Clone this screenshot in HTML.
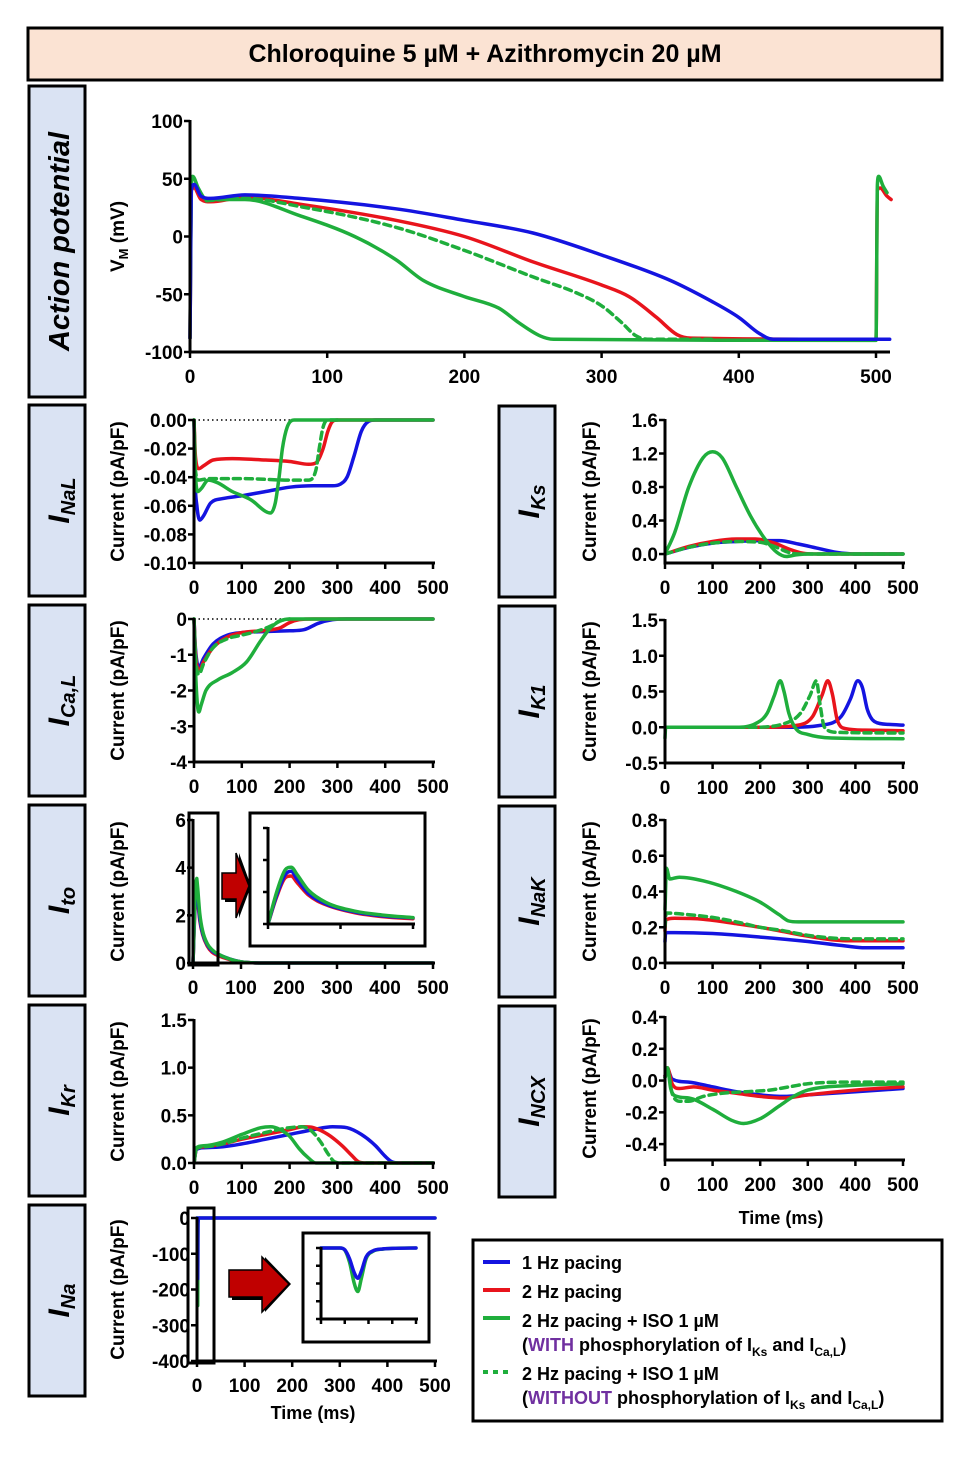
<!DOCTYPE html>
<html><head><meta charset="utf-8">
<style>
html,body{margin:0;padding:0;background:#fff;}
svg{display:block;font-family:"Liberation Sans",Arial,sans-serif;}
</style></head>
<body>
<svg id="fig" width="974" height="1463" viewBox="0 0 974 1463" xmlns="http://www.w3.org/2000/svg">
<rect x="0" y="0" width="974" height="1463" fill="#fff"/>
<g>
<rect x="28" y="28" width="914" height="52" fill="#fbe3d3" stroke="#000" stroke-width="3"/>
<text x="485" y="62" text-anchor="middle" font-size="25" font-weight="bold">Chloroquine 5 µM + Azithromycin 20 µM</text>
</g>
<g id="labels"></g>
<g id="plots"></g>
<g>
<rect x="473" y="1240" width="469" height="181" fill="#fff" stroke="#000" stroke-width="3"/>
<line x1="483" y1="1262" x2="510" y2="1262" stroke="#1414e0" stroke-width="4"/>
<text x="522" y="1269" font-size="18" font-weight="bold">1 Hz pacing</text>
<line x1="483" y1="1290" x2="510" y2="1290" stroke="#e8141c" stroke-width="4"/>
<text x="522" y="1298" font-size="18" font-weight="bold">2 Hz pacing</text>
<line x1="483" y1="1318" x2="510" y2="1318" stroke="#1fae3c" stroke-width="4"/>
<text x="522" y="1327" font-size="18" font-weight="bold">2 Hz pacing + ISO 1 µM</text>
<text x="522" y="1351" font-size="18" font-weight="bold">(<tspan fill="#7030a0">WITH</tspan> phosphorylation of I<tspan font-size="12" dy="5">Ks</tspan><tspan dy="-5"> and I</tspan><tspan font-size="12" dy="5">Ca,L</tspan><tspan dy="-5">)</tspan></text>
<line x1="483" y1="1372" x2="510" y2="1372" stroke="#1fae3c" stroke-width="4" stroke-dasharray="5,5"/>
<text x="522" y="1380" font-size="18" font-weight="bold">2 Hz pacing + ISO 1 µM</text>
<text x="522" y="1404" font-size="18" font-weight="bold">(<tspan fill="#7030a0">WITHOUT</tspan> phosphorylation of I<tspan font-size="12" dy="5">Ks</tspan><tspan dy="-5"> and I</tspan><tspan font-size="12" dy="5">Ca,L</tspan><tspan dy="-5">)</tspan></text>
</g>
<text x="781" y="1224" text-anchor="middle" font-size="18" font-weight="bold">Time (ms)</text>
<text x="313" y="1419" text-anchor="middle" font-size="18" font-weight="bold">Time (ms)</text>
</svg>
<script>
// ---------- data (time ms, value) ----------
const apBlue=[[0,-88],[1,40],[3,45],[8,35],[15,33],[40,36],[80,33],[150,24],[200,14],[250,3],[300,-16],[350,-38],[380,-56],[400,-70],[415,-84],[425,-89],[510,-89]];
const apRed=[[0,-88],[1,40],[3,42],[8,32],[15,30],[40,34],[80,28],[150,14],[200,0],[250,-22],[300,-42],[320,-52],[340,-70],[355,-85],[365,-88],[500,-89],[501,40],[503,42],[508,35],[511,32]];
const apGreen=[[0,-88],[1,45],[2,52],[6,42],[12,32],[40,32],[80,18],[120,0],[150,-20],[170,-38],[200,-52],[225,-62],[240,-75],[255,-86],[265,-89],[500,-90],[501,45],[502,52],[505,44],[508,38]];
const apGreenDash=[[12,31],[40,33],[80,26],[150,8],[200,-12],[250,-35],[280,-48],[300,-60],[315,-75],[325,-86],[335,-89],[380,-89]];

const nalBlue=[[0,0],[2,-0.04],[6,-0.06],[12,-0.07],[20,-0.067],[35,-0.058],[60,-0.055],[100,-0.053],[150,-0.05],[200,-0.047],[250,-0.046],[290,-0.046],[305,-0.045],[320,-0.04],[335,-0.025],[350,-0.008],[365,-0.001],[380,0],[500,0]];
const nalRed=[[0,0],[3,-0.025],[10,-0.034],[20,-0.032],[40,-0.028],[80,-0.027],[150,-0.028],[200,-0.029],[240,-0.031],[255,-0.03],[270,-0.02],[280,-0.008],[290,-0.001],[300,0],[500,0]];
const nalGreen=[[0,0],[2,-0.03],[8,-0.05],[15,-0.048],[30,-0.042],[50,-0.044],[80,-0.05],[120,-0.056],[150,-0.064],[160,-0.065],[170,-0.058],[178,-0.04],[185,-0.02],[195,-0.005],[210,0],[500,0]];
const nalGreenDash=[[0,0],[3,-0.035],[10,-0.042],[30,-0.041],[100,-0.041],[200,-0.042],[240,-0.042],[255,-0.035],[262,-0.02],[270,-0.005],[280,0],[300,0]];

const ksBlue=[[0,0],[50,0.08],[100,0.13],[150,0.15],[200,0.16],[240,0.16],[280,0.12],[320,0.07],[360,0.02],[400,0],[500,0]];
const ksRed=[[0,0],[50,0.09],[100,0.15],[150,0.18],[190,0.18],[230,0.13],[260,0.06],[290,0.01],[320,0],[500,0]];
const ksGreen=[[0,0],[20,0.25],[50,0.8],[80,1.15],[100,1.22],[120,1.15],[150,0.8],[180,0.45],[210,0.18],[235,0.02],[255,-0.03],[275,-0.01],[300,0],[500,0]];
const ksGreenDash=[[0,0],[50,0.08],[100,0.13],[150,0.15],[200,0.14],[230,0.09],[260,0.02],[280,0],[500,0]];

const calBlue=[[0,0],[3,-0.8],[10,-1.35],[20,-1.1],[40,-0.7],[70,-0.45],[100,-0.38],[150,-0.35],[200,-0.33],[230,-0.3],[260,-0.12],[290,-0.02],[320,0],[500,0]];
const calRed=[[0,0],[3,-0.9],[10,-1.45],[20,-1.2],[40,-0.8],[70,-0.5],[100,-0.38],[150,-0.32],[180,-0.25],[200,-0.1],[220,-0.02],[250,0],[500,0]];
const calGreen=[[0,0],[2,-1.0],[6,-2.2],[10,-2.6],[15,-2.4],[25,-2.0],[50,-1.7],[80,-1.5],[110,-1.2],[140,-0.6],[160,-0.25],[180,-0.06],[200,0],[500,0]];
const calGreenDash=[[0,0],[3,-1.0],[10,-1.55],[20,-1.25],[40,-0.8],[70,-0.55],[100,-0.45],[130,-0.35],[160,-0.2],[180,-0.05],[200,0]];

const k1Blue=[[0,0],[250,0],[330,0.03],[370,0.15],[390,0.4],[405,0.65],[415,0.55],[425,0.25],[440,0.08],[470,0.04],[500,0.03]];
const k1Red=[[0,0],[200,0],[280,0.03],[310,0.15],[330,0.45],[342,0.65],[352,0.45],[362,0.1],[380,-0.02],[420,-0.04],[500,-0.05]];
const k1Green=[[0,-0.15],[1,0],[150,0],[190,0.05],[215,0.2],[230,0.45],[242,0.65],[250,0.5],[260,0.2],[275,-0.02],[300,-0.1],[350,-0.15],[500,-0.16]];
const k1GreenDash=[[0,0],[180,0],[250,0.05],[285,0.2],[305,0.45],[318,0.65],[325,0.35],[335,0.0],[360,-0.07],[500,-0.08]];

const toBlue=[[0,0],[3,1.8],[6,3.1],[8,3.3],[10,2.8],[14,1.9],[20,1.25],[30,0.75],[40,0.5],[50,0.38],[100,0.05],[150,0],[500,0]];
const toRed=[[0,0],[3,1.7],[6,2.9],[8,3.0],[10,2.6],[14,1.8],[20,1.2],[30,0.7],[40,0.45],[50,0.33],[100,0.05],[150,0],[500,0]];
const toGreen=[[0,0],[3,2.0],[6,3.4],[8,3.55],[10,3.1],[14,2.1],[20,1.35],[30,0.8],[40,0.55],[50,0.4],[100,0.05],[150,0],[500,0]];

const nakBlue=[[0,0.12],[1,0.17],[20,0.17],[100,0.165],[200,0.145],[300,0.12],[380,0.095],[420,0.085],[500,0.085]];
const nakRed=[[0,0.18],[1,0.24],[20,0.25],[80,0.245],[150,0.22],[200,0.2],[250,0.175],[300,0.15],[350,0.13],[380,0.125],[500,0.125]];
const nakGreen=[[0,0.3],[3,0.53],[10,0.47],[30,0.48],[80,0.46],[150,0.4],[200,0.34],[240,0.27],[260,0.235],[280,0.23],[500,0.23]];
const nakGreenDash=[[0,0.2],[2,0.28],[30,0.275],[100,0.255],[150,0.23],[200,0.2],[250,0.18],[300,0.155],[350,0.14],[400,0.135],[500,0.135]];

const krBlue=[[0,0],[5,0.14],[20,0.16],[60,0.17],[100,0.2],[150,0.25],[200,0.3],[250,0.35],[290,0.38],[320,0.37],[350,0.3],[380,0.18],[400,0.07],[415,0.01],[430,0],[500,0]];
const krRed=[[0,0],[5,0.15],[20,0.17],[60,0.2],[100,0.25],[150,0.3],[200,0.35],[230,0.38],[250,0.37],[280,0.3],[310,0.18],[330,0.08],[345,0.01],[360,0],[500,0]];
const krGreen=[[0,0],[5,0.16],[20,0.18],[60,0.22],[100,0.3],[140,0.37],[160,0.38],[180,0.35],[200,0.28],[220,0.15],[240,0.05],[255,0],[500,0]];
const krGreenDash=[[0,0],[5,0.15],[20,0.17],[60,0.2],[100,0.26],[150,0.32],[200,0.37],[225,0.38],[245,0.34],[265,0.22],[280,0.1],[295,0.01],[310,0],[500,0]];

const ncxBlue=[[0,0.03],[5,0.07],[15,0.01],[50,-0.01],[100,-0.04],[150,-0.07],[200,-0.09],[250,-0.1],[300,-0.09],[400,-0.07],[500,-0.05]];
const ncxRed=[[0,0.03],[5,0.08],[15,-0.02],[30,-0.05],[60,-0.04],[100,-0.06],[150,-0.08],[200,-0.1],[250,-0.11],[300,-0.09],[400,-0.06],[500,-0.04]];
const ncxGreen=[[0,0.02],[5,0.08],[12,-0.05],[25,-0.1],[50,-0.11],[100,-0.18],[140,-0.25],[165,-0.27],[200,-0.24],[240,-0.16],[270,-0.1],[300,-0.06],[400,-0.03],[500,-0.02]];
const ncxGreenDash=[[0,0.02],[5,0.06],[15,-0.08],[30,-0.13],[50,-0.13],[80,-0.1],[120,-0.08],[170,-0.07],[220,-0.06],[260,-0.04],[300,-0.02],[400,-0.01],[500,-0.01]];

const naBlue=[[0,0],[0.8,0],[1.0,-10],[1.2,-60],[1.4,-140],[1.55,-170],[1.7,-130],[1.9,-50],[2.2,-15],[2.6,-5],[3,-2],[4,0],[500,0]];
const naGreen=[[0,0],[0.8,0],[1.0,-12],[1.2,-80],[1.4,-200],[1.55,-245],[1.7,-170],[1.9,-60],[2.2,-18],[2.6,-6],[3,-2],[4,0],[500,0]];

const xTicks500=[0,100,200,300,400,500];
const apXTicks=[0,100,200,300,400,500];
const apYTicks=[100,50,0,-50,-100];
const nalYTicks=[0,-0.02,-0.04,-0.06,-0.08,-0.1];
const nalYLabels=["0.00","-0.02","-0.04","-0.06","-0.08","-0.10"];
const ksYTicks=[1.6,1.2,0.8,0.4,0];
const ksYLabels=["1.6","1.2","0.8","0.4","0.0"];
const calYTicks=[0,-1,-2,-3,-4];
const k1YTicks=[1.5,1,0.5,0,-0.5];
const k1YLabels=["1.5","1.0","0.5","0.0","-0.5"];
const toYTicks=[6,4,2,0];
const nakYTicks=[0.8,0.6,0.4,0.2,0];
const nakYLabels=["0.8","0.6","0.4","0.2","0.0"];
const krYTicks=[1.5,1,0.5,0];
const krYLabels=["1.5","1.0","0.5","0.0"];
const ncxYTicks=[0.4,0.2,0,-0.2,-0.4];
const ncxYLabels=["0.4","0.2","0.0","-0.2","-0.4"];
const naYTicks=[0,-100,-200,-300,-400];

const BLUE="#1414e0",RED="#e8141c",GREEN="#1fae3c";
const NS="http://www.w3.org/2000/svg";
const plots=document.getElementById('plots');
function mk(tag,attrs,parent){const e=document.createElementNS(NS,tag);for(const k in attrs)e.setAttribute(k,attrs[k]);(parent||plots).appendChild(e);return e;}

// monotone cubic path (Fritsch-Carlson) through pixel points
function smoothPath(P){
  const n=P.length; if(n<2) return '';
  const d=[],m=[];
  for(let i=0;i<n-1;i++){const dx=P[i+1][0]-P[i][0];d.push(dx===0?0:(P[i+1][1]-P[i][1])/dx);}
  m[0]=d[0];m[n-1]=d[n-2];
  for(let i=1;i<n-1;i++){m[i]=(d[i-1]*d[i]<=0)?0:(d[i-1]+d[i])/2;}
  for(let i=0;i<n-1;i++){if(d[i]===0){m[i]=0;m[i+1]=0;continue;}const a=m[i]/d[i],b=m[i+1]/d[i],s=a*a+b*b;if(s>9){const t=3/Math.sqrt(s);m[i]=t*a*d[i];m[i+1]=t*b*d[i];}}
  let s='M'+P[0][0].toFixed(1)+','+P[0][1].toFixed(1);
  for(let i=0;i<n-1;i++){const dx=P[i+1][0]-P[i][0];
    if(dx<1.2){s+=' L'+P[i+1][0].toFixed(1)+','+P[i+1][1].toFixed(1);continue;}
    const c1x=P[i][0]+dx/3,c1y=P[i][1]+m[i]*dx/3,c2x=P[i+1][0]-dx/3,c2y=P[i+1][1]-m[i+1]*dx/3;
    s+=' C'+c1x.toFixed(1)+','+c1y.toFixed(1)+' '+c2x.toFixed(1)+','+c2y.toFixed(1)+' '+P[i+1][0].toFixed(1)+','+P[i+1][1].toFixed(1);}
  return s;
}

function panel(c){
  const g=mk('g',{});
  
  
  const sx=t=>c.x0+t/c.tmax*(c.x1-c.x0);
  const sy=v=>c.yTop+(c.vmax-v)/(c.vmax-c.vmin)*(c.yBot-c.yTop);
  const sw=c.sw||3;
  if(c.zeroDotted){const l=mk('line',{x1:c.x0,y1:sy(0),x2:c.x1,y2:sy(0),stroke:'#000','stroke-width':1.5,'stroke-dasharray':'1.5,3'},g);
    
    }
  (c.series||[]).forEach(s=>{
    const P=s.data.filter(p=>p[0]<=(c.clip||1e9)).map(p=>[sx(p[0]),sy(p[1])]);
    const pl=mk('path',{d:smoothPath(P),fill:'none',stroke:s.color,'stroke-width':c.lw||3.5,'stroke-linejoin':'round','stroke-linecap':'round'},g);
    if(s.dash)pl.setAttribute('stroke-dasharray',s.dash);
    
    
  });
  const ax=c.axisX!==undefined?c.axisX:c.x0;
  const ya=mk('line',{x1:ax,y1:c.yTop-1,x2:ax,y2:c.yBot+sw/2,stroke:'#000','stroke-width':sw},g);
  
  
  const xa=mk('line',{x1:ax-sw/2,y1:c.yBot,x2:c.xEnd||c.x1+2,y2:c.yBot,stroke:'#000','stroke-width':sw},g);
  
  
  const tl=c.tick||6;
  c.yticks.forEach((v,i)=>{
    mk('line',{x1:ax-tl,y1:sy(v),x2:ax,y2:sy(v),stroke:'#000','stroke-width':sw-0.5},g);
    if(!c.noLabels){const t=mk('text',{x:ax-7,y:sy(v)+7,'text-anchor':'end','font-size':19,'font-weight':'bold'},g);
      t.textContent=c.ylabels?c.ylabels[i]:String(v);
      
      }
  });
  c.xticks.forEach(v=>{
    mk('line',{x1:sx(v),y1:c.yBot,x2:sx(v),y2:c.yBot+tl,stroke:'#000','stroke-width':sw-0.5},g);
    if(!c.noLabels){const t=mk('text',{x:sx(v),y:c.yBot+31,'text-anchor':'middle','font-size':19,'font-weight':'bold'},g);
      t.textContent=String(v);
      
      }
  });
  if(c.ytitle){const t=mk('text',{transform:`rotate(-90 ${c.ytitleX} ${(c.yTop+c.yBot)/2})`,x:c.ytitleX,y:(c.yTop+c.yBot)/2,'text-anchor':'middle','font-size':19,'font-weight':'bold'},g);
    t.innerHTML=c.ytitle;
    
    }
  return g;
}
const CUR="Current (pA/pF)";
function S(d,color,name,dash){return {data:d,color:color,name:name,dash:dash};}

panel({name:'action-potential-chart',x0:190,x1:876,xEnd:890,tmax:500,yTop:121,yBot:352,vmax:100,vmin:-100,yticks:apYTicks,xticks:apXTicks,
  ytitle:'V<tspan font-size="13" dy="4">M</tspan><tspan dy="-4"> (mV)</tspan>',ytitleX:124,
  series:[S(apRed,RED,'ap-2hz'),S(apGreenDash,GREEN,'ap-iso-without','7,5'),S(apGreen,GREEN,'ap-iso-with'),S(apBlue,BLUE,'ap-1hz')]});
panel({name:'inal-chart',x0:194,x1:433,tmax:500,yTop:420,yBot:563,vmax:0,vmin:-0.1,yticks:nalYTicks,ylabels:nalYLabels,xticks:xTicks500,zeroDotted:true,ytitle:CUR,ytitleX:124,
  series:[S(nalBlue,BLUE,'inal-1hz'),S(nalRed,RED,'inal-2hz'),S(nalGreenDash,GREEN,'inal-iso-without','7,5'),S(nalGreen,GREEN,'inal-iso-with')]});
panel({name:'iks-chart',x0:665,x1:903,tmax:500,yTop:420,yBot:563,vmax:1.6,vmin:-0.107,yticks:ksYTicks,ylabels:ksYLabels,xticks:xTicks500,ytitle:CUR,ytitleX:596,
  series:[S(ksBlue,BLUE,'iks-1hz'),S(ksRed,RED,'iks-2hz'),S(ksGreenDash,GREEN,'iks-iso-without','7,5'),S(ksGreen,GREEN,'iks-iso-with')]});
panel({name:'ical-chart',x0:194,x1:433,tmax:500,yTop:619,yBot:762,vmax:0,vmin:-4,yticks:calYTicks,xticks:xTicks500,zeroDotted:true,ytitle:CUR,ytitleX:124,
  series:[S(calBlue,BLUE,'ical-1hz'),S(calRed,RED,'ical-2hz'),S(calGreenDash,GREEN,'ical-iso-without','7,5'),S(calGreen,GREEN,'ical-iso-with')]});
panel({name:'ik1-chart',x0:665,x1:903,tmax:500,yTop:620,yBot:763,vmax:1.5,vmin:-0.5,yticks:k1YTicks,ylabels:k1YLabels,xticks:xTicks500,ytitle:CUR,ytitleX:596,
  series:[S(k1Blue,BLUE,'ik1-1hz'),S(k1Red,RED,'ik1-2hz'),S(k1GreenDash,GREEN,'ik1-iso-without','7,5'),S(k1Green,GREEN,'ik1-iso-with')]});
panel({name:'ito-chart',x0:193,x1:433,tmax:500,yTop:820,yBot:963,vmax:6,vmin:0,yticks:toYTicks,xticks:xTicks500,ytitle:CUR,ytitleX:124,
  series:[S(toRed,RED,'ito-2hz'),S(toBlue,BLUE,'ito-1hz'),S(toGreen,GREEN,'ito-iso-with')]});
panel({name:'inak-chart',x0:665,x1:903,tmax:500,yTop:820,yBot:963,vmax:0.8,vmin:0,yticks:nakYTicks,ylabels:nakYLabels,xticks:xTicks500,ytitle:CUR,ytitleX:596,
  series:[S(nakBlue,BLUE,'inak-1hz'),S(nakRed,RED,'inak-2hz'),S(nakGreenDash,GREEN,'inak-iso-without','7,5'),S(nakGreen,GREEN,'inak-iso-with')]});
panel({name:'ikr-chart',x0:194,x1:433,tmax:500,yTop:1020,yBot:1163,vmax:1.5,vmin:0,yticks:krYTicks,ylabels:krYLabels,xticks:xTicks500,ytitle:CUR,ytitleX:124,
  series:[S(krBlue,BLUE,'ikr-1hz'),S(krRed,RED,'ikr-2hz'),S(krGreenDash,GREEN,'ikr-iso-without','7,5'),S(krGreen,GREEN,'ikr-iso-with')]});
panel({name:'incx-chart',x0:665,x1:903,tmax:500,yTop:1017,yBot:1160,vmax:0.4,vmin:-0.5,yticks:ncxYTicks,ylabels:ncxYLabels,xticks:xTicks500,ytitle:CUR,ytitleX:596,
  series:[S(ncxBlue,BLUE,'incx-1hz'),S(ncxRed,RED,'incx-2hz'),S(ncxGreenDash,GREEN,'incx-iso-without','7,5'),S(ncxGreen,GREEN,'incx-iso-with')]});
panel({name:'ina-chart',x0:197,x1:435,tmax:500,yTop:1218,yBot:1361,vmax:0,vmin:-400,yticks:naYTicks,xticks:xTicks500,ytitle:CUR,ytitleX:124,
  series:[S(naGreen,GREEN,'ina-iso-with'),S(naBlue,BLUE,'ina-1hz')]});

// zoom boxes, arrows, insets
function box(x,y,w,h,name){const r=mk('rect',{x:x,y:y,width:w,height:h,fill:'none',stroke:'#000','stroke-width':3});
  
  }
box(189,813,29,152,'ito-zoom-region');
box(188,1208,26,155,'ina-zoom-region');
const ib1=mk('rect',{x:250,y:813,width:175,height:133,fill:'#fff',stroke:'#000','stroke-width':3});


const ib2=mk('rect',{x:303,y:1233,width:126,height:109,fill:'#fff',stroke:'#000','stroke-width':3});


function arrow(bx0,bx1,by0,by1,hx,hy0,hy1,tip,name){
  mk('polygon',{points:`${bx0+3},${by0+3} ${bx1+3},${by0+3} ${bx1+3},${hy0} ${hx+2},${tip} ${bx1+3},${hy1} ${bx1+3},${by1+3} ${bx0+3},${by1+3}`,fill:'#000'});
  const p=mk('polygon',{points:`${bx0},${by0} ${bx1},${by0} ${bx1},${hy0} ${hx},${tip} ${bx1},${hy1} ${bx1},${by1} ${bx0},${by1}`,fill:'#c00000',stroke:'#000','stroke-width':1.5});
  
  
}
arrow(222,236,873,899,249,853,918,886,'ito-zoom-arrow');
arrow(229,262,1270,1297,289,1257,1312,1284,'ina-zoom-arrow');
panel({name:'ito-inset-chart',x0:268,x1:413,tmax:50,clip:50,yTop:828,yBot:924,vmax:6,vmin:0,yticks:toYTicks,xticks:[0,25,50],noLabels:true,sw:3,tick:5,
  series:[S(toRed,RED,'ito-inset-2hz'),S(toBlue,BLUE,'ito-inset-1hz'),S(toGreen,GREEN,'ito-inset-iso-with')]});
panel({name:'ina-inset-chart',x0:321,x1:416,tmax:4,clip:4,yTop:1248,yBot:1319,vmax:0,vmin:-400,yticks:naYTicks,xticks:[0,1,2,3,4],noLabels:true,sw:3,tick:5,
  series:[S(naGreen,GREEN,'ina-inset-iso-with'),S(naBlue,BLUE,'ina-inset-1hz')]});

// row label boxes
const labels=document.getElementById('labels');
function lab(x,y,h,html,name,fs){
  const r=mk('rect',{x:x,y:y,width:56,height:h,fill:'#dae3f3',stroke:'#000','stroke-width':3},labels);
  
  
  const cx=x+30,cy=y+h/2;
  const t=mk('text',{transform:`rotate(-90 ${cx} ${cy})`,x:cx,y:cy+10,'text-anchor':'middle','font-size':fs||30,'font-weight':'bold','font-style':'italic'},labels);
  t.innerHTML=html;
  
  
}
lab(29,86,311,'Action potential','action-potential-label',29);
lab(29,405,191,'I<tspan font-size="20" dy="6">NaL</tspan>','inal-label');
lab(29,605,191,'I<tspan font-size="20" dy="6">Ca,L</tspan>','ical-label');
lab(29,805,191,'I<tspan font-size="20" dy="6">to</tspan>','ito-label');
lab(29,1005,191,'I<tspan font-size="20" dy="6">Kr</tspan>','ikr-label');
lab(29,1205,191,'I<tspan font-size="20" dy="6">Na</tspan>','ina-label');
lab(499,406,191,'I<tspan font-size="20" dy="6">Ks</tspan>','iks-label');
lab(499,606,191,'I<tspan font-size="20" dy="6">K1</tspan>','ik1-label');
lab(499,806,191,'I<tspan font-size="20" dy="6">NaK</tspan>','inak-label');
lab(499,1006,191,'I<tspan font-size="20" dy="6">NCX</tspan>','incx-label');
</script>
</body></html>
